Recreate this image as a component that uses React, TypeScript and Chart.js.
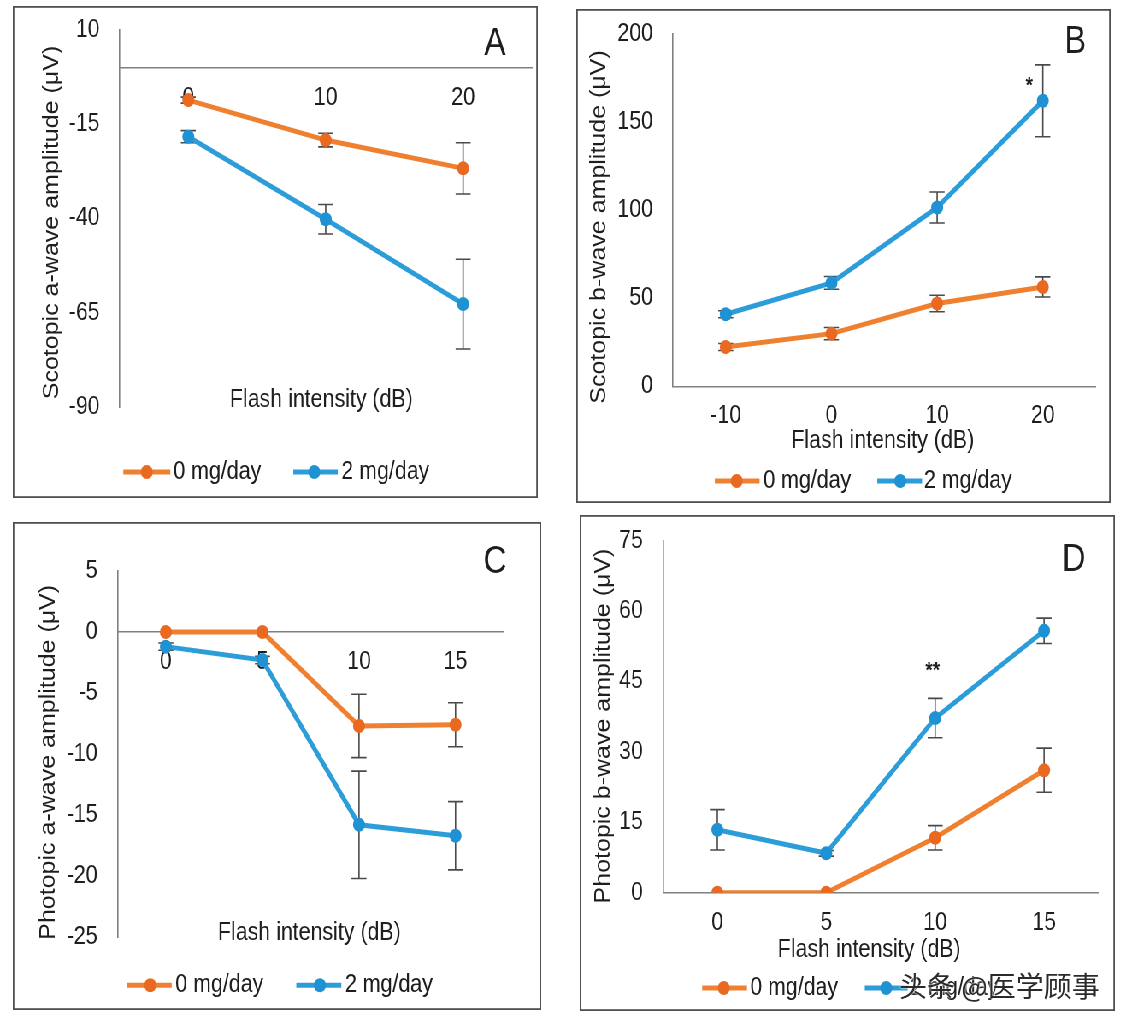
import React, { useEffect, useRef } from 'react';
import { Chart, registerables } from 'chart.js';

Chart.register(...registerables);

// ---------------- data ----------------
const seriesNames = ['0 mg/day', '2 mg/day'];

const aCategories = ['0', '10', '20'];
const aOrange = [-8.6, -19.2, -26.7];
const aOrangeErr = [0.8, 1.8, 6.8];
const aBlue = [-18.3, -40.2, -62.7];
const aBlueErr = [1.6, 3.9, 11.9];
const aTicks = [-90, -65, -40, -15, 10];

const bCategories = ['-10', '0', '10', '20'];
const bOrange = [22.3, 29.9, 47.0, 56.4];
const bOrangeErr = [2.0, 3.5, 4.7, 5.7];
const bBlue = [40.9, 58.7, 101.5, 162.1];
const bBlueErr = [2.0, 3.6, 8.8, 20.4];
const bTicks = [0, 50, 100, 150, 200];

const cCategories = ['0', '5', '10', '15'];
const cOrange = [0, 0, -7.7, -7.6];
const cOrangeErr = [0, 0, 2.6, 1.8];
const cBlue = [-1.2, -2.3, -15.8, -16.7];
const cBlueErr = [0.3, 0.3, 4.4, 2.8];
const cTicks = [-25, -20, -15, -10, -5, 0, 5];

const dCategories = ['0', '5', '10', '15'];
const dOrange = [0, 0, 11.7, 26.1];
const dOrangeErr = [0, 0, 2.6, 4.7];
const dBlue = [13.4, 8.4, 37.2, 55.8];
const dBlueErr = [4.3, 0.6, 4.2, 2.7];
const dTicks = [0, 15, 30, 45, 60, 75];

// ---------------- style ----------------
const S = 0.855; // horizontal squeeze of the original figure
const FONT = "'Liberation Sans', Arial, Helvetica, sans-serif";
const TXT = '#1e1e1e';
const AXIS = '#808080';
const ERR = '#4a4a4a';
const ORANGE = '#EE8030';
const ORANGE_PT = '#E8691F';
const BLUE = '#2C9DD8';
const BLUE_PT = '#1E92D2';

type Box = { l: number; t: number; r: number; b: number };
type PanelCfg = {
  letter: string;
  box: Box;
  plot: Box;
  zeroAxis: boolean;
  yTitle: string;
  yTitlePos: [number, number];
  xTitlePos: [number, number];
  letterPos: [number, number];
  categories: string[];
  orange: number[];
  orangeErr: number[];
  blue: number[];
  blueErr: number[];
  ticks: number[];
  legendY: number;
  legendItems: { x1: number; x2: number; xm: number; xt: number }[];
  star?: { text: string; x: number; y: number };
};

const panels: PanelCfg[] = [
  {
    letter: 'A',
    box: { l: 12.5, t: 6, r: 537.5, b: 498 },
    plot: { l: 119.3, t: 30, r: 537.5, b: 407 },
    zeroAxis: true,
    yTitle: 'Scotopic a-wave amplitude (\u03bcV)',
    yTitlePos: [52, 222.5],
    xTitlePos: [321, 400],
    letterPos: [494.6, 43.3],
    categories: aCategories,
    orange: aOrange,
    orangeErr: aOrangeErr,
    blue: aBlue,
    blueErr: aBlueErr,
    ticks: aTicks,
    legendY: 472,
    legendItems: [
      { x1: 123, x2: 170, xm: 146.5, xt: 173 },
      { x1: 293, x2: 337.5, xm: 314, xt: 341 },
    ],
  },
  {
    letter: 'B',
    box: { l: 576, t: 9, r: 1110, b: 502.7 },
    plot: { l: 672.7, t: 34, r: 1095, b: 386 },
    zeroAxis: false,
    yTitle: 'Scotopic b-wave amplitude (\u03bcV)',
    yTitlePos: [599.3, 227],
    xTitlePos: [882.5, 440.7],
    letterPos: [1075, 41.7],
    categories: bCategories,
    orange: bOrange,
    orangeErr: bOrangeErr,
    blue: bBlue,
    blueErr: bBlueErr,
    ticks: bTicks,
    legendY: 481,
    legendItems: [
      { x1: 714.6, x2: 759.3, xm: 736.5, xt: 763 },
      { x1: 877, x2: 921.8, xm: 900, xt: 923.6 },
    ],
    star: { text: '*', x: 1029, y: 86 },
  },
  {
    letter: 'C',
    box: { l: 12.5, t: 521.7, r: 541, b: 1010 },
    plot: { l: 117.3, t: 570.7, r: 503.6, b: 937 },
    zeroAxis: true,
    yTitle: 'Photopic a-wave amplitude (\u03bcV)',
    yTitlePos: [48.3, 762],
    xTitlePos: [309, 933],
    letterPos: [494.6, 561.7],
    categories: cCategories,
    orange: cOrange,
    orangeErr: cOrangeErr,
    blue: cBlue,
    blueErr: cBlueErr,
    ticks: cTicks,
    legendY: 985,
    legendItems: [
      { x1: 126.8, x2: 171.4, xm: 150, xt: 175 },
      { x1: 296, x2: 341, xm: 319.6, xt: 344.6 },
    ],
  },
  {
    letter: 'D',
    box: { l: 579.5, t: 515, r: 1115, b: 1011 },
    plot: { l: 662.7, t: 540.7, r: 1098.6, b: 892.7 },
    zeroAxis: false,
    yTitle: 'Photopic b-wave amplitude (\u03bcV)',
    yTitlePos: [603.3, 726],
    xTitlePos: [869, 950],
    letterPos: [1073.6, 560],
    categories: dCategories,
    orange: dOrange,
    orangeErr: dOrangeErr,
    blue: dBlue,
    blueErr: dBlueErr,
    ticks: dTicks,
    legendY: 988,
    legendItems: [
      { x1: 702, x2: 746.8, xm: 723.6, xt: 750 },
      { x1: 864.6, x2: 907.5, xm: 886, xt: 910 },
    ],
    star: { text: '**', x: 932.5, y: 671 },
  },
];

function zeroPadding(s: any) {
  s.paddingTop = 0;
  s.paddingBottom = 0;
  s.paddingLeft = 0;
  s.paddingRight = 0;
}

function PanelChart({ cfg }: { cfg: PanelCfg }) {
  const ref = useRef<HTMLCanvasElement | null>(null);
  const { box, plot } = cfg;
  const w = Math.round((box.r - box.l) / S);
  const h = Math.round(box.b - box.t);
  const vx = (x: number) => (x - box.l) / S;
  const vy = (y: number) => y - box.t;

  useEffect(() => {
    const canvas = ref.current;
    if (!canvas) return;
    const lineColors = [ORANGE, BLUE];
    const ptColors = [ORANGE_PT, BLUE_PT];
    const errs = [cfg.orangeErr, cfg.blueErr];

    const errorBars = {
      id: 'errorBars',
      beforeDatasetsDraw(chart: any) {
        const ctx = chart.ctx;
        const ys = chart.scales.y;
        ctx.save();
        ctx.strokeStyle = ERR;
        ctx.lineWidth = 1.6;
        chart.data.datasets.forEach((ds: any, di: number) => {
          const meta = chart.getDatasetMeta(di);
          meta.data.forEach((pt: any, i: number) => {
            const e = errs[di][i];
            if (!e) return;
            const v = ds.data[i];
            const yTop = ys.getPixelForValue(v + e);
            const yBot = ys.getPixelForValue(v - e);
            const cap = 7.5 / S;
            ctx.beginPath();
            ctx.moveTo(pt.x, yTop);
            ctx.lineTo(pt.x, yBot);
            ctx.moveTo(pt.x - cap, yTop);
            ctx.lineTo(pt.x + cap, yTop);
            ctx.moveTo(pt.x - cap, yBot);
            ctx.lineTo(pt.x + cap, yBot);
            ctx.stroke();
          });
        });
        ctx.restore();
      },
    };

    const decorations = {
      id: 'decorations',
      afterDraw(chart: any) {
        const ctx = chart.ctx;
        ctx.save();
        // frame
        ctx.strokeStyle = '#505050';
        ctx.lineWidth = 1.8;
        ctx.strokeRect(0.9, 0.9, chart.width - 1.8, chart.height - 1.8);
        // x title
        ctx.fillStyle = TXT;
        ctx.font = `25px ${FONT}`;
        ctx.textAlign = 'center';
        ctx.textBaseline = 'middle';
        ctx.fillText('Flash intensity (dB)', vx(cfg.xTitlePos[0]), vy(cfg.xTitlePos[1]));
        // y title
        ctx.save();
        ctx.translate(vx(cfg.yTitlePos[0]), vy(cfg.yTitlePos[1]));
        ctx.rotate(-Math.PI / 2);
        ctx.fillText(cfg.yTitle, 0, 0);
        ctx.restore();
        // panel letter
        ctx.font = `38px ${FONT}`;
        ctx.fillText(cfg.letter, vx(cfg.letterPos[0]), vy(cfg.letterPos[1]) + 1);
        // significance stars
        if (cfg.star) {
          ctx.font = `bold 22px ${FONT}`;
          ctx.fillText(cfg.star.text, vx(cfg.star.x), vy(cfg.star.y));
        }
        // legend
        cfg.legendItems.forEach((it, i) => {
          const y = vy(cfg.legendY);
          ctx.strokeStyle = lineColors[i];
          ctx.lineWidth = 5;
          ctx.beginPath();
          ctx.moveTo(vx(it.x1), y);
          ctx.lineTo(vx(it.x2), y);
          ctx.stroke();
          ctx.fillStyle = ptColors[i];
          ctx.beginPath();
          ctx.arc(vx(it.xm), y, 7, 0, Math.PI * 2);
          ctx.fill();
          ctx.fillStyle = TXT;
          ctx.font = `25px ${FONT}`;
          ctx.textAlign = 'left';
          ctx.fillText(seriesNames[i], vx(it.xt), y);
          ctx.textAlign = 'center';
        });
        ctx.restore();
      },
    };

    const yMin = Math.min(...cfg.ticks);
    const yMax = Math.max(...cfg.ticks);

    const chart = new Chart(canvas, {
      type: 'line',
      data: {
        labels: cfg.categories,
        datasets: [cfg.orange, cfg.blue].map((d, i) => ({
          label: seriesNames[i],
          data: d,
          borderColor: lineColors[i],
          backgroundColor: ptColors[i],
          borderWidth: 5,
          pointRadius: 7,
          pointBorderWidth: 0,
          pointBackgroundColor: ptColors[i],
          tension: 0,
          fill: false,
        })),
      },
      options: {
        responsive: false,
        animation: false,
        devicePixelRatio: 1,
        events: [],
        layout: {
          padding: {
            left: 0,
            right: (box.r - plot.r) / S,
            top: plot.t - box.t,
            bottom: cfg.zeroAxis ? box.b - plot.b : 0,
          },
        },
        plugins: { legend: { display: false }, tooltip: { enabled: false } },
        scales: {
          x: {
            type: 'category',
            offset: true,
            position: cfg.zeroAxis ? { y: 0 } : 'bottom',
            grid: { display: false, drawTicks: false },
            border: { display: true, color: AXIS, width: 1.6 },
            ticks: {
              color: TXT,
              font: { size: 25, family: FONT },
              padding: 15,
              maxRotation: 0,
              autoSkip: false,
            },
            afterFit: (s: any) => {
              zeroPadding(s);
              if (!cfg.zeroAxis) s.height = box.b - plot.b;
            },
          },
          y: {
            type: 'linear',
            min: yMin,
            max: yMax,
            grid: { display: false, drawTicks: false },
            border: { display: true, color: AXIS, width: 1.6 },
            ticks: {
              color: TXT,
              font: { size: 25, family: FONT },
              padding: 20 / S,
            },
            afterBuildTicks: (s: any) => {
              s.ticks = cfg.ticks.map((v) => ({ value: v }));
            },
            afterFit: (s: any) => {
              zeroPadding(s);
              s.width = (plot.l - box.l) / S;
            },
          },
        },
      } as any,
      plugins: [errorBars, decorations],
    });
    return () => chart.destroy();
  }, []);

  return (
    <canvas
      ref={ref}
      width={w}
      height={h}
      style={{
        position: 'absolute',
        left: box.l / S,
        top: box.t,
        width: w,
        height: h,
        display: 'block',
      }}
    />
  );
}

export default function App() {
  return (
    <div
      style={{
        position: 'fixed',
        left: 0,
        top: 0,
        width: 1130,
        height: 1022,
        overflow: 'hidden',
        background: '#ffffff',
      }}
    >
      <div
        style={{
          position: 'absolute',
          left: 0,
          top: 0,
          width: 1130 / S,
          height: 1022,
          transform: `scaleX(${S})`,
          transformOrigin: '0 0',
        }}
      >
        {panels.map((p) => (
          <PanelChart key={p.letter} cfg={p} />
        ))}
      </div>
      <div
        style={{
          position: 'absolute',
          left: 899,
          top: 966,
          fontSize: 28,
          lineHeight: '38px',
          fontFamily: "'Noto Sans CJK SC', sans-serif",
          color: '#2a2a2a',
          whiteSpace: 'nowrap',
          textShadow: '0 0 2px #fff, 0 0 2px #fff',
        }}
      >
        头条 @医学顾事
      </div>
    </div>
  );
}
